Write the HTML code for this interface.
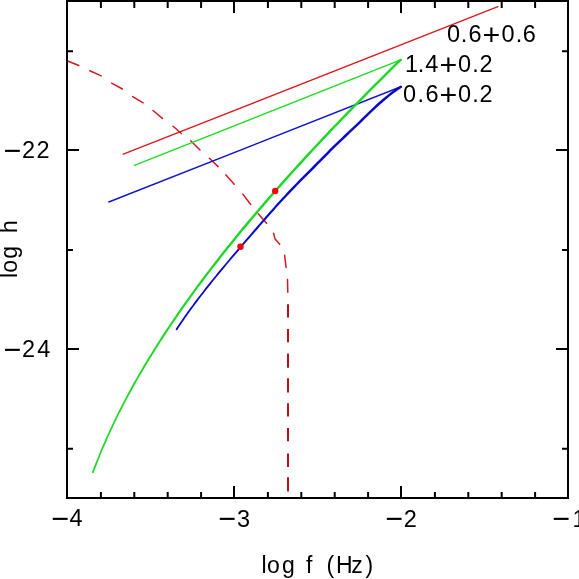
<!DOCTYPE html>
<html><head><meta charset="utf-8"><style>
html,body{margin:0;padding:0;background:#fff;}
svg{display:block;}
text{font-family:"Liberation Sans",Arial,sans-serif;fill:#000;}
</style></head><body>
<svg width="579" height="579" viewBox="0 0 579 579">
<rect width="579" height="579" fill="#fff"/>
<g fill="none" stroke-linecap="round" stroke-linejoin="round">
<path d="M67,60.8 L78.8,65.5 M89.8,70.7 L101.2,75.9 M111.6,83.2 L122.4,89 M132.7,96.6 L143.1,102.8 M153,110.5 L162.4,118.4 M173.1,126.2 L181.4,133.5 M190.7,140.7 L200,150 M209.4,158.3 L218.1,166.6 M226,174.9 L234.2,184.2 M242.8,194.1 L250.7,204.5 M258.2,213.8 L266.6,223.3 M284.6,255.3 L286.1,267.5 M287.5,279.4 L287.8,292.3 M273.5,233.2 L275.1,239.1 L279.7,244.3" stroke="#d41a20" stroke-width="1.5"/>
<path d=" M288,304.2 V317.5 M288,328.9 V342.2 M288,353.6 V367.8 M288,378.2 V392.4 M288,403.3 V416.6 M288,428 V441.2 M288,453.6 V466.9 M288,477.3 V491.5" stroke="#b81018" stroke-width="2" stroke-linecap="butt"/>
<path d="M123.3,154.2 L497.9,6.6" stroke="#dc1a1e" stroke-width="1.4"/>
<path d="M134.4,165.3 L401.3,59.7" stroke="#1edc24" stroke-width="1.4"/>
<path d="M108.8,202 L401.5,86.5" stroke="#1414d0" stroke-width="1.4"/>
</g>
<path d="M400.55,58.43 L399.06,59.60 L395.51,63.09 L392.00,66.55 L388.49,70.01 L385.00,73.47 L381.52,76.93 L378.05,80.40 L374.58,83.86 L371.13,87.32 L367.70,90.78 L364.27,94.24 L360.85,97.71 L357.45,101.17 L354.05,104.63 L350.67,108.09 L347.30,111.55 L343.95,115.02 L340.60,118.48 L337.27,121.94 L333.95,125.40 L330.64,128.86 L327.35,132.33 L324.07,135.79 L320.80,139.25 L317.55,142.71 L314.31,146.18 L311.08,149.64 L307.87,153.10 L304.67,156.56 L301.48,160.03 L298.31,163.49 L295.16,166.95 L292.01,170.41 L288.89,173.88 L285.77,177.34 L282.68,180.80 L279.60,184.26 L276.53,187.73 L273.48,191.19 L270.44,194.65 L267.42,198.12 L264.42,201.58 L261.43,205.04 L258.46,208.51 L255.51,211.97 L252.57,215.43 L249.65,218.89 L246.74,222.36 L243.85,225.82 L240.98,229.28 L238.14,232.75 L235.31,236.22 L232.49,239.69 L229.70,243.16 L226.92,246.62 L224.16,250.09 L221.42,253.56 L218.70,257.03 L216.00,260.49 L213.31,263.96 L210.65,267.43 L208.00,270.90 L205.37,274.37 L202.76,277.83 L200.17,281.30 L197.60,284.77 L195.05,288.24 L192.52,291.70 L190.01,295.17 L187.53,298.64 L185.06,302.11 L182.61,305.58 L180.18,309.04 L177.77,312.51 L175.39,315.98 L173.02,319.45 L170.68,322.92 L168.36,326.38 L166.06,329.85 L163.78,333.32 L161.52,336.79 L159.29,340.26 L157.07,343.72 L154.88,347.19 L152.72,350.66 L150.57,354.13 L148.45,357.60 L146.35,361.06 L144.28,364.53 L142.22,368.00 L140.19,371.47 L138.19,374.94 L136.21,378.41 L134.25,381.87 L132.31,385.34 L130.40,388.81 L128.52,392.28 L126.66,395.75 L124.82,399.21 L123.01,402.68 L121.22,406.15 L119.46,409.62 L117.73,413.09 L116.02,416.55 L114.33,420.02 L112.67,423.49 L111.03,426.95 L109.41,430.42 L107.82,433.88 L106.26,437.35 L104.73,440.81 L103.22,444.28 L101.74,447.74 L100.28,451.21 L98.86,454.68 L97.46,458.14 L96.08,461.61 L94.74,465.07 L93.42,468.54 L92.13,472.00 L93.73,472.60 L95.01,469.14 L96.33,465.68 L97.67,462.23 L99.03,458.77 L100.43,455.32 L101.85,451.86 L103.30,448.41 L104.78,444.95 L106.28,441.50 L107.82,438.04 L109.37,434.59 L110.96,431.13 L112.56,427.67 L114.20,424.22 L115.86,420.76 L117.55,417.31 L119.27,413.86 L121.01,410.40 L122.78,406.95 L124.58,403.50 L126.40,400.05 L128.24,396.59 L130.11,393.14 L132.00,389.69 L133.92,386.23 L135.86,382.78 L137.82,379.33 L139.81,375.87 L141.83,372.42 L143.86,368.97 L145.92,365.52 L148.00,362.06 L150.11,358.61 L152.24,355.16 L154.39,351.70 L156.56,348.25 L158.76,344.80 L160.98,341.35 L163.22,337.89 L165.48,334.44 L167.77,330.99 L170.08,327.53 L172.40,324.08 L174.75,320.63 L177.12,317.17 L179.52,313.72 L181.93,310.27 L184.36,306.82 L186.82,303.36 L189.29,299.91 L191.79,296.46 L194.31,293.00 L196.84,289.55 L199.40,286.10 L201.97,282.64 L204.57,279.19 L207.18,275.74 L209.82,272.28 L212.47,268.83 L215.14,265.38 L217.83,261.92 L220.54,258.47 L223.27,255.02 L226.02,251.56 L228.78,248.11 L231.56,244.66 L234.36,241.20 L237.18,237.75 L240.02,234.30 L242.87,230.84 L245.74,227.39 L248.62,223.93 L251.52,220.47 L254.44,217.01 L257.37,213.56 L260.32,210.10 L263.29,206.64 L266.27,203.18 L269.27,199.72 L272.29,196.27 L275.32,192.81 L278.37,189.35 L281.43,185.89 L284.51,182.43 L287.60,178.97 L290.71,175.52 L293.83,172.06 L296.97,168.60 L300.12,165.14 L303.29,161.68 L306.47,158.22 L309.66,154.77 L312.87,151.31 L316.10,147.85 L319.33,144.39 L322.58,140.93 L325.85,137.47 L329.13,134.01 L332.42,130.56 L335.72,127.10 L339.04,123.64 L342.37,120.18 L345.71,116.72 L349.06,113.26 L352.43,109.80 L355.80,106.34 L359.20,102.88 L362.60,99.43 L366.01,95.97 L369.43,92.51 L372.87,89.05 L376.32,85.59 L379.78,82.13 L383.25,78.67 L386.73,75.21 L390.22,71.75 L393.72,68.29 L397.23,64.83 L400.72,61.40 L402.05,60.37Z" fill="#1ed828"/>
<circle cx="92.93" cy="472.30" r="0.85" fill="#1ed828"/>
<path d="M400.86,85.43 L399.14,86.45 L396.12,88.50 L393.23,90.55 L390.47,92.60 L387.81,94.65 L385.26,96.69 L382.81,98.74 L380.43,100.78 L378.13,102.83 L375.89,104.87 L373.71,106.91 L371.56,108.95 L369.45,110.99 L367.36,113.02 L365.29,115.05 L363.22,117.09 L361.14,119.11 L359.04,121.14 L356.93,123.17 L354.81,125.20 L352.67,127.23 L350.52,129.26 L348.37,131.29 L346.22,133.33 L344.07,135.36 L341.93,137.39 L339.79,139.43 L337.67,141.46 L335.55,143.50 L333.46,145.53 L331.38,147.57 L329.33,149.60 L327.30,151.64 L325.29,153.68 L323.29,155.71 L321.29,157.74 L319.29,159.77 L317.28,161.80 L315.26,163.83 L313.24,165.86 L311.22,167.89 L309.19,169.93 L307.17,171.97 L305.15,174.00 L303.13,176.04 L301.12,178.08 L299.11,180.12 L297.12,182.16 L295.13,184.20 L293.16,186.24 L291.21,188.28 L289.27,190.32 L287.35,192.36 L285.44,194.41 L283.55,196.45 L281.68,198.49 L279.82,200.53 L277.97,202.57 L276.14,204.61 L274.32,206.65 L272.50,208.69 L270.70,210.73 L268.91,212.76 L267.12,214.80 L265.35,216.84 L263.57,218.88 L261.81,220.92 L260.04,222.96 L258.28,224.99 L256.53,227.03 L254.77,229.07 L253.02,231.11 L251.27,233.14 L249.51,235.18 L247.76,237.22 L246.02,239.26 L244.27,241.29 L242.52,243.33 L240.78,245.37 L239.05,247.41 L237.31,249.44 L235.58,251.48 L233.85,253.52 L232.13,255.56 L230.41,257.60 L228.70,259.63 L226.99,261.67 L225.28,263.70 L223.58,265.73 L221.89,267.77 L220.20,269.80 L218.52,271.83 L216.85,273.87 L215.19,275.90 L213.53,277.93 L211.88,279.97 L210.25,282.00 L208.62,284.04 L207.00,286.07 L205.39,288.10 L203.79,290.14 L202.20,292.17 L200.63,294.21 L199.06,296.24 L197.51,298.28 L195.96,300.31 L194.43,302.35 L192.92,304.38 L191.41,306.42 L189.92,308.45 L188.45,310.49 L186.99,312.52 L185.54,314.56 L184.11,316.59 L182.69,318.63 L181.29,320.66 L179.90,322.70 L178.53,324.74 L177.18,326.77 L175.84,328.81 L177.35,329.79 L178.68,327.76 L180.03,325.74 L181.39,323.71 L182.77,321.68 L184.17,319.65 L185.58,317.62 L187.01,315.60 L188.45,313.57 L189.91,311.54 L191.38,309.51 L192.87,307.48 L194.36,305.45 L195.88,303.42 L197.40,301.40 L198.94,299.37 L200.49,297.34 L202.05,295.31 L203.62,293.28 L205.21,291.25 L206.80,289.22 L208.41,287.19 L210.02,285.16 L211.65,283.13 L213.28,281.10 L214.93,279.07 L216.58,277.04 L218.24,275.01 L219.91,272.98 L221.59,270.95 L223.27,268.92 L224.96,266.89 L226.66,264.86 L228.37,262.83 L230.08,260.79 L231.80,258.77 L233.53,256.74 L235.26,254.72 L237.00,252.69 L238.74,250.66 L240.48,248.64 L242.23,246.61 L243.98,244.59 L245.74,242.56 L247.50,240.53 L249.26,238.51 L251.02,236.48 L252.78,234.45 L254.55,232.43 L256.31,230.40 L258.08,228.38 L259.85,226.35 L261.62,224.32 L263.39,222.30 L265.17,220.27 L266.95,218.25 L268.74,216.22 L270.53,214.20 L272.33,212.17 L274.14,210.15 L275.96,208.12 L277.79,206.10 L279.63,204.07 L281.48,202.05 L283.35,200.03 L285.23,198.00 L287.12,195.98 L289.03,193.96 L290.96,191.93 L292.90,189.91 L294.86,187.89 L296.84,185.86 L298.83,183.84 L300.83,181.82 L302.85,179.79 L304.87,177.77 L306.89,175.74 L308.92,173.72 L310.96,171.69 L312.99,169.66 L315.01,167.63 L317.04,165.59 L319.06,163.56 L321.07,161.53 L323.07,159.49 L325.07,157.46 L327.07,155.43 L329.07,153.40 L331.09,151.37 L333.14,149.35 L335.20,147.32 L337.29,145.29 L339.40,143.26 L341.52,141.23 L343.65,139.20 L345.79,137.17 L347.94,135.14 L350.09,133.11 L352.24,131.08 L354.39,129.05 L356.53,127.01 L358.66,124.98 L360.78,122.94 L362.88,120.91 L364.97,118.87 L367.04,116.84 L369.11,114.81 L371.19,112.78 L373.29,110.75 L375.42,108.73 L377.59,106.71 L379.80,104.68 L382.08,102.66 L384.42,100.65 L386.85,98.63 L389.36,96.61 L391.97,94.59 L394.70,92.58 L397.54,90.56 L400.50,88.55 L402.14,87.57Z" fill="#0a0ac8"/>
<circle cx="176.59" cy="329.30" r="0.90" fill="#0a0ac8"/>
<circle cx="275.2" cy="191" r="3.2" fill="#f00"/>
<circle cx="240.5" cy="246.8" r="3.2" fill="#f00"/>
<g fill="none" stroke="#000" stroke-width="2">
<rect x="67" y="1" width="501" height="497"/>
<path d="M100.9,498V492 M100.9,1V8 M134.3,498V492 M134.3,1V8 M167.7,498V492 M167.7,1V8 M201.1,498V492 M201.1,1V8 M234.0,498V486 M234.0,1V13 M267.9,498V492 M267.9,1V8 M301.3,498V492 M301.3,1V8 M334.7,498V492 M334.7,1V8 M368.1,498V492 M368.1,1V8 M401.0,498V486 M401.0,1V13 M434.9,498V492 M434.9,1V8 M468.3,498V492 M468.3,1V8 M501.7,498V492 M501.7,1V8 M535.1,498V492 M535.1,1V8 M67,51.2H73 M568,51.2H562 M67,150.1H79 M568,150.1H556 M67,250.0H73 M568,250.0H562 M67,348.9H79 M568,348.9H556 M67,448.8H73 M568,448.8H562"/>
</g>
<text font-size="23.5"><tspan x="3.70" y="160.84" font-size="30.5">&#8722;</tspan><tspan x="22.12" y="157.80">2</tspan><tspan x="36.62" y="157.80">2</tspan></text>
<text font-size="23.5"><tspan x="3.70" y="360.04" font-size="30.5">&#8722;</tspan><tspan x="22.12" y="357.00">2</tspan><tspan x="37.26" y="357.00">4</tspan></text>
<text font-size="23.5"><tspan x="51.50" y="529.14" font-size="30.5">&#8722;</tspan><tspan x="69.46" y="526.40">4</tspan></text>
<text font-size="23.5"><tspan x="218.50" y="529.14" font-size="30.5">&#8722;</tspan><tspan x="237.10" y="526.60">3</tspan></text>
<text font-size="23.5"><tspan x="385.60" y="529.14" font-size="30.5">&#8722;</tspan><tspan x="403.82" y="526.50">2</tspan></text>
<text font-size="23.5"><tspan x="552.50" y="529.14" font-size="30.5">&#8722;</tspan><tspan x="572.61" y="526.50">1</tspan></text>
<text font-size="23.5"><tspan x="446.98" y="42.00">0</tspan><tspan x="460.75" y="42.00">.</tspan><tspan x="468.61" y="42.00">6</tspan><tspan x="482.62" y="45.31" font-size="30.4">+</tspan><tspan x="501.38" y="42.00">0</tspan><tspan x="515.65" y="42.00">.</tspan><tspan x="522.81" y="42.00">6</tspan></text>
<text font-size="23.5"><tspan x="405.11" y="71.60">1</tspan><tspan x="417.75" y="71.60">.</tspan><tspan x="425.36" y="71.60">4</tspan><tspan x="439.62" y="74.71" font-size="30.4">+</tspan><tspan x="457.88" y="71.60">0</tspan><tspan x="472.15" y="71.60">.</tspan><tspan x="479.42" y="71.60">2</tspan></text>
<text font-size="23.5"><tspan x="402.98" y="101.50">0</tspan><tspan x="417.55" y="101.50">.</tspan><tspan x="425.61" y="101.50">6</tspan><tspan x="439.62" y="104.61" font-size="30.4">+</tspan><tspan x="457.88" y="101.50">0</tspan><tspan x="472.15" y="101.50">.</tspan><tspan x="479.42" y="101.50">2</tspan></text>
<text font-size="23"><tspan x="261.55" y="572.70">l</tspan><tspan x="267.03" y="572.70">o</tspan><tspan x="282.03" y="572.70">g</tspan><tspan x="300.00" y="572.70"> </tspan><tspan x="305.97" y="572.70">f</tspan><tspan x="320.00" y="572.70"> </tspan><tspan x="326.47" y="572.70">(</tspan><tspan x="335.91" y="572.70">H</tspan><tspan x="351.37" y="572.70">z</tspan><tspan x="365.47" y="572.70">)</tspan></text>
<text font-size="23" transform="translate(16.9,0) rotate(-90)"><tspan x="-278.05" y="0">l</tspan><tspan x="-272.77" y="0">o</tspan><tspan x="-258.87" y="0">g</tspan><tspan x="-240.00" y="0"> </tspan><tspan x="-232.89" y="0">h</tspan></text>
</svg>
</body></html>
